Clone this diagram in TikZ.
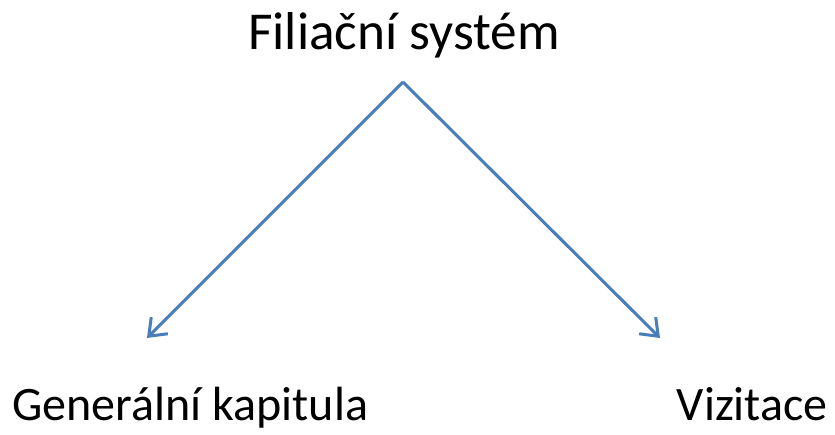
\documentclass[tikz,border=0pt]{standalone}
\usepackage{fontspec}
\setmainfont{Carlito}
\usepackage{tikz}
\usetikzlibrary{arrows.meta, positioning}
\definecolor{linkdraw}{HTML}{4A7EBB}
\tikzset{
  lbl/.style={inner sep=0pt, font=\fontsize{41}{48}\selectfont},
  ttl/.style={lbl, font=\fontsize{45.5}{54}\selectfont},
  arr/.style={-{Straight Barb[length=13pt, width=20pt]}, line width=2.6pt, draw=linkdraw},
}
\begin{document}
\begin{tikzpicture}
  \useasboundingbox (0,0) rectangle (25.05,13.05);

  \node[ttl, anchor=base] (sys) at (12.12,11.55) {Filiační systém};
  \node[lbl, anchor=base west] (gen) at (0.36,0.42) {Generální kapitula};
  \node[lbl, anchor=base east] (viz) at (24.84,0.42) {Vizitace};

  \coordinate (top) at (12.09,10.59);
  \coordinate (genend) at (4.41,2.91);
  \coordinate (vizend) at (19.8,2.91);

  \draw[arr] (top) -- (genend);
  \draw[arr] (top) -- (vizend);
\end{tikzpicture}
\end{document}
